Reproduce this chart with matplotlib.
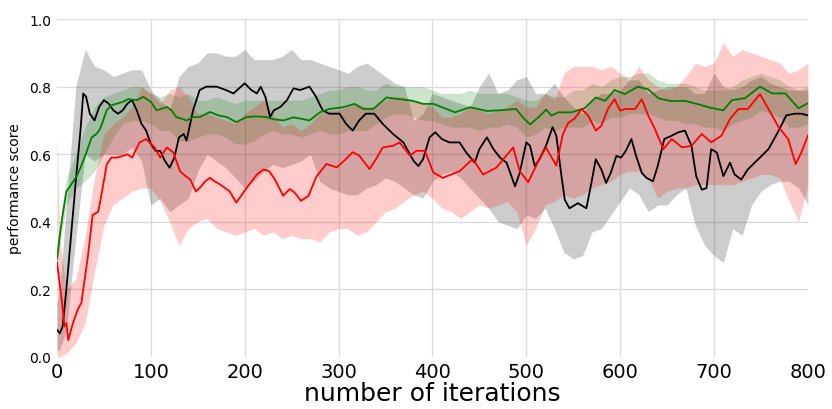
import numpy as np
import matplotlib
matplotlib.use("Agg")
import matplotlib.pyplot as plt

# ------------------------------------------------------------------ lines
black_x = [0, 3, 6, 10, 15, 20, 25, 28, 31, 35, 40, 45, 50, 55, 60, 65, 70, 75, 80, 85,
           90, 95, 100, 105, 110, 115, 120, 125, 130, 135, 138, 145, 152, 159, 170, 180,
           188, 200, 207, 213, 217, 222, 227, 231, 238, 245, 252, 259, 269, 276, 283, 290,
           301, 308, 315, 322, 329, 338, 347, 358, 369, 380, 385, 390, 397, 403, 410, 418,
           429, 436, 445, 450, 458, 465, 472, 479, 488, 493, 500, 504, 509, 514, 521, 528,
           532, 537, 541, 546, 555, 564, 569, 574, 580, 585, 590, 596, 601, 606, 612, 617,
           623, 628, 635, 640, 647, 655, 662, 669, 676, 681, 687, 692, 697, 703, 710, 717,
           722, 729, 736, 747, 758, 768, 777, 786, 793, 800]
black_y = [0.08, 0.07, 0.09, 0.20, 0.36, 0.52, 0.67, 0.78, 0.77, 0.72, 0.70, 0.74, 0.76,
           0.75, 0.73, 0.72, 0.73, 0.75, 0.76, 0.73, 0.69, 0.67, 0.63, 0.61, 0.61, 0.58,
           0.56, 0.59, 0.65, 0.66, 0.64, 0.73, 0.79, 0.80, 0.80, 0.79, 0.78, 0.81, 0.79,
           0.78, 0.80, 0.77, 0.71, 0.73, 0.74, 0.76, 0.795, 0.79, 0.80, 0.77, 0.73, 0.72,
           0.72, 0.69, 0.67, 0.70, 0.72, 0.72, 0.69, 0.66, 0.635, 0.58, 0.565, 0.585, 0.65,
           0.665, 0.645, 0.635, 0.635, 0.605, 0.575, 0.615, 0.65, 0.615, 0.59, 0.575, 0.505,
           0.545, 0.635, 0.625, 0.565, 0.585, 0.625, 0.68, 0.655, 0.545, 0.465, 0.44, 0.455,
           0.44, 0.51, 0.585, 0.555, 0.515, 0.545, 0.595, 0.59, 0.61, 0.645, 0.595, 0.545,
           0.53, 0.52, 0.565, 0.645, 0.655, 0.665, 0.67, 0.625, 0.535, 0.495, 0.50, 0.615,
           0.605, 0.535, 0.575, 0.54, 0.525, 0.555, 0.585, 0.615, 0.665, 0.715, 0.72, 0.72,
           0.715]

green_x = [0, 3, 6, 10, 15, 21, 25, 30, 37, 42, 46, 53, 58, 64, 70, 76, 85, 92, 100, 106,
           112, 117, 122, 127, 133, 138, 145, 152, 163, 172, 181, 191, 202, 212, 223, 230,
           241, 252, 260, 269, 280, 290, 305, 317, 326, 337, 347, 351, 365, 379, 390, 401,
           415, 424, 440, 458, 472, 489, 498, 504, 514, 521, 527, 534, 548, 562, 574, 584,
           594, 605, 619, 630, 641, 655, 669, 683, 697, 710, 719, 733, 749, 762, 776, 790,
           800]
green_y = [0.29, 0.36, 0.42, 0.49, 0.51, 0.535, 0.56, 0.595, 0.65, 0.66, 0.675, 0.73,
           0.745, 0.75, 0.755, 0.763, 0.76, 0.77, 0.755, 0.73, 0.735, 0.74, 0.73, 0.71,
           0.705, 0.70, 0.71, 0.71, 0.725, 0.715, 0.71, 0.695, 0.71, 0.712, 0.71, 0.704,
           0.70, 0.709, 0.705, 0.70, 0.724, 0.734, 0.739, 0.749, 0.734, 0.734, 0.758, 0.768,
           0.763, 0.758, 0.749, 0.749, 0.734, 0.724, 0.739, 0.728, 0.73, 0.734, 0.704, 0.688,
           0.712, 0.732, 0.714, 0.724, 0.724, 0.736, 0.768, 0.758, 0.79, 0.778, 0.80, 0.792,
           0.765, 0.757, 0.758, 0.748, 0.737, 0.73, 0.76, 0.766, 0.80, 0.78, 0.78, 0.736,
           0.751]

red_x = [0, 5, 8, 10, 12, 17, 22, 26, 28, 33, 38, 44, 48, 53, 58, 64, 70, 75, 80, 88, 95,
         104, 110, 117, 124, 131, 137, 142, 148, 152, 158, 163, 168, 174, 184, 191, 197,
         202, 213, 220, 226, 232, 241, 248, 253, 260, 268, 276, 287, 298, 308, 315, 322,
         333, 340, 347, 358, 365, 376, 383, 392, 401, 411, 429, 443, 454, 468, 486, 493,
         502, 514, 521, 532, 539, 545, 551, 559, 566, 574, 580, 587, 594, 600, 606, 616,
         623, 630, 637, 646, 655, 666, 676, 687, 697, 708, 717, 726, 736, 749, 758, 768,
         779, 787, 793, 800]
red_y = [0.28, 0.17, 0.09, 0.10, 0.05, 0.10, 0.14, 0.16, 0.20, 0.30, 0.42, 0.43, 0.49,
         0.57, 0.59, 0.59, 0.595, 0.60, 0.59, 0.635, 0.645, 0.62, 0.59, 0.62, 0.605, 0.55,
         0.535, 0.525, 0.49, 0.50, 0.52, 0.53, 0.52, 0.51, 0.49, 0.457, 0.48, 0.50, 0.54,
         0.555, 0.55, 0.526, 0.477, 0.497, 0.487, 0.462, 0.477, 0.532, 0.571, 0.561, 0.586,
         0.606, 0.596, 0.556, 0.586, 0.62, 0.625, 0.635, 0.596, 0.61, 0.61, 0.546, 0.53,
         0.55, 0.586, 0.54, 0.56, 0.62, 0.55, 0.517, 0.586, 0.62, 0.566, 0.66, 0.694, 0.704,
         0.734, 0.714, 0.67, 0.684, 0.734, 0.763, 0.729, 0.734, 0.734, 0.763, 0.714, 0.675,
         0.615, 0.645, 0.62, 0.625, 0.66, 0.635, 0.655, 0.704, 0.734, 0.734, 0.778, 0.734,
         0.684, 0.645, 0.571, 0.605, 0.655]

# ------------------------------------------------------------------ bands
band_x = [0, 3, 10, 20, 30, 40, 50, 60, 70, 80, 90, 100, 110, 120, 130, 140, 150, 160,
          170, 180, 190, 200, 210, 220, 230, 240, 250, 260, 270, 280, 290, 300, 310, 320,
          330, 340, 350, 360, 370, 380, 390, 400, 410, 420, 430, 440, 450, 460, 470, 480,
          490, 500, 510, 520, 530, 540, 550, 560, 570, 580, 590, 600, 610, 620, 630, 640,
          650, 660, 670, 680, 690, 700, 710, 720, 730, 740, 750, 760, 770, 780, 790, 800]

black_lo = [0.02, 0.02, 0.08, 0.35, 0.60, 0.58, 0.60, 0.60, 0.60, 0.62, 0.58, 0.45, 0.47,
            0.43, 0.45, 0.47, 0.55, 0.60, 0.58, 0.56, 0.53, 0.50, 0.52, 0.55, 0.57, 0.56,
            0.57, 0.58, 0.60, 0.52, 0.50, 0.49, 0.48, 0.48, 0.50, 0.51, 0.53, 0.52, 0.50,
            0.48, 0.47, 0.52, 0.54, 0.55, 0.53, 0.50, 0.47, 0.44, 0.40, 0.39, 0.38, 0.42,
            0.41, 0.44, 0.38, 0.31, 0.29, 0.30, 0.37, 0.38, 0.42, 0.46, 0.50, 0.48, 0.43,
            0.45, 0.45, 0.48, 0.50, 0.39, 0.33, 0.30, 0.28, 0.38, 0.36, 0.45, 0.49, 0.51,
            0.52, 0.52, 0.50, 0.45]
black_hi = [0.16, 0.20, 0.45, 0.80, 0.91, 0.86, 0.85, 0.83, 0.84, 0.85, 0.85, 0.79, 0.76,
            0.73, 0.83, 0.86, 0.87, 0.90, 0.90, 0.89, 0.89, 0.91, 0.88, 0.88, 0.88, 0.89,
            0.91, 0.88, 0.88, 0.87, 0.86, 0.85, 0.84, 0.86, 0.87, 0.85, 0.83, 0.81, 0.80,
            0.70, 0.72, 0.78, 0.77, 0.76, 0.75, 0.74, 0.80, 0.84, 0.78, 0.79, 0.82, 0.83,
            0.78, 0.78, 0.81, 0.77, 0.74, 0.72, 0.76, 0.78, 0.78, 0.79, 0.82, 0.82, 0.78,
            0.79, 0.80, 0.80, 0.80, 0.78, 0.78, 0.84, 0.80, 0.79, 0.80, 0.82, 0.83, 0.81,
            0.80, 0.79, 0.79, 0.79]

green_lo = [0.27, 0.33, 0.45, 0.50, 0.52, 0.55, 0.60, 0.65, 0.69, 0.70, 0.70, 0.69, 0.67,
            0.67, 0.64, 0.64, 0.65, 0.66, 0.66, 0.65, 0.63, 0.63, 0.64, 0.66, 0.67, 0.66,
            0.66, 0.65, 0.66, 0.67, 0.66, 0.66, 0.67, 0.67, 0.67, 0.69, 0.71, 0.72, 0.72,
            0.71, 0.70, 0.70, 0.69, 0.68, 0.68, 0.68, 0.67, 0.68, 0.68, 0.69, 0.68, 0.65,
            0.66, 0.68, 0.67, 0.68, 0.68, 0.68, 0.70, 0.69, 0.71, 0.71, 0.72, 0.72, 0.72,
            0.71, 0.70, 0.70, 0.69, 0.69, 0.68, 0.68, 0.67, 0.69, 0.70, 0.71, 0.73, 0.72,
            0.71, 0.68, 0.68, 0.69]
green_hi = [0.31, 0.39, 0.53, 0.60, 0.68, 0.74, 0.77, 0.78, 0.79, 0.80, 0.80, 0.78, 0.77,
            0.78, 0.77, 0.78, 0.76, 0.76, 0.77, 0.76, 0.75, 0.76, 0.76, 0.76, 0.76, 0.76,
            0.76, 0.76, 0.77, 0.78, 0.79, 0.79, 0.80, 0.80, 0.79, 0.79, 0.81, 0.80, 0.80,
            0.80, 0.80, 0.79, 0.78, 0.78, 0.78, 0.79, 0.78, 0.78, 0.78, 0.78, 0.77, 0.76,
            0.76, 0.78, 0.77, 0.77, 0.79, 0.79, 0.81, 0.80, 0.82, 0.83, 0.83, 0.84, 0.84,
            0.82, 0.81, 0.81, 0.81, 0.80, 0.79, 0.79, 0.79, 0.80, 0.82, 0.83, 0.84, 0.83,
            0.82, 0.80, 0.79, 0.80]

red_lo = [0.00, 0.00, 0.01, 0.04, 0.10, 0.25, 0.39, 0.45, 0.47, 0.49, 0.50, 0.50, 0.46,
          0.40, 0.33, 0.38, 0.40, 0.41, 0.38, 0.37, 0.36, 0.37, 0.38, 0.36, 0.37, 0.35,
          0.36, 0.35, 0.35, 0.34, 0.37, 0.38, 0.38, 0.36, 0.37, 0.40, 0.43, 0.44, 0.46,
          0.48, 0.49, 0.47, 0.44, 0.43, 0.41, 0.43, 0.45, 0.44, 0.45, 0.46, 0.43, 0.33,
          0.38, 0.45, 0.46, 0.48, 0.47, 0.48, 0.50, 0.51, 0.52, 0.54, 0.55, 0.55, 0.53,
          0.47, 0.49, 0.50, 0.50, 0.51, 0.51, 0.51, 0.51, 0.51, 0.52, 0.53, 0.54, 0.54,
          0.53, 0.46, 0.40, 0.51]
red_hi = [0.66, 0.35, 0.20, 0.23, 0.36, 0.53, 0.66, 0.69, 0.71, 0.74, 0.80, 0.78, 0.75,
          0.79, 0.80, 0.77, 0.72, 0.72, 0.71, 0.70, 0.69, 0.72, 0.74, 0.76, 0.72, 0.68,
          0.69, 0.67, 0.69, 0.72, 0.73, 0.73, 0.74, 0.75, 0.74, 0.74, 0.76, 0.77, 0.77,
          0.76, 0.75, 0.74, 0.71, 0.71, 0.72, 0.74, 0.73, 0.72, 0.73, 0.74, 0.76, 0.74,
          0.74, 0.78, 0.76, 0.84, 0.86, 0.86, 0.86, 0.85, 0.86, 0.84, 0.82, 0.86, 0.82,
          0.80, 0.79, 0.80, 0.83, 0.87, 0.86, 0.87, 0.93, 0.89, 0.91, 0.90, 0.89, 0.88,
          0.87, 0.84, 0.85, 0.87]

XTICKS = [0, 100, 200, 300, 400, 500, 600, 700, 800]
YTICKS = [0.0, 0.2, 0.4, 0.6, 0.8, 1.0]


def main():
    fig = plt.figure(figsize=(8.32, 4.10), dpi=100)
    ax = fig.add_axes([0.0685, 0.127, 0.9025, 0.824])

    ax.fill_between(band_x, black_lo, black_hi, color="k", alpha=0.2, lw=0)
    ax.fill_between(band_x, green_lo, green_hi, color="g", alpha=0.2, lw=0)
    ax.fill_between(band_x, red_lo, red_hi, color="r", alpha=0.2, lw=0)
    ax.plot(black_x, black_y, color="k", lw=1.3)
    ax.plot(green_x, green_y, color="g", lw=1.3)
    ax.plot(red_x, red_y, color="r", lw=1.3)

    ax.set_xlim(0, 800); ax.set_ylim(0, 1.0)
    ax.set_xticks(XTICKS); ax.set_yticks(YTICKS)
    ax.tick_params(axis="x", labelsize=14, length=0, pad=4)
    ax.tick_params(axis="y", labelsize=10, length=0, pad=4)
    for s in ax.spines.values():
        s.set_visible(False)
    ax.grid(True, color="#dcdcdc", lw=1.0)
    ax.set_axisbelow(True)
    # no gridline on the frame edges
    xg = ax.xaxis.get_gridlines(); xg[0].set_visible(False); xg[-1].set_visible(False)
    ax.yaxis.get_gridlines()[0].set_visible(False)

    ax.set_xlabel("number of iterations", fontsize=18, labelpad=0)
    ax.set_ylabel("performance score", fontsize=10, labelpad=5)
    fig.savefig("out.png", dpi=100)
    plt.close(fig)


if __name__ == "__main__":
    main()
